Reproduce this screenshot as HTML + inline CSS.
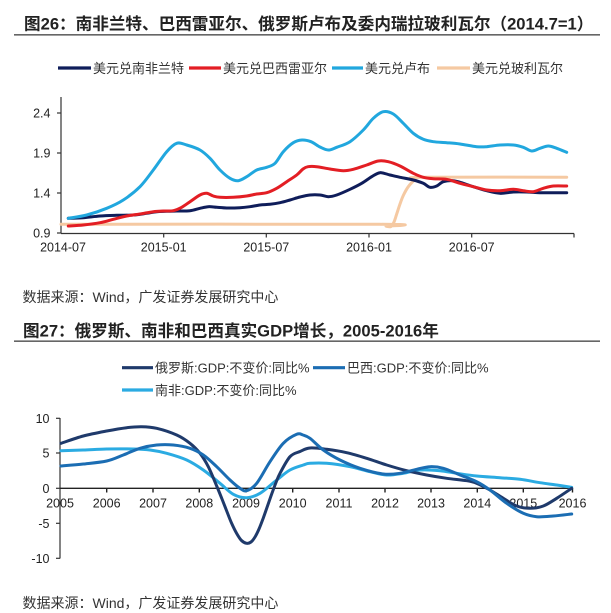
<!DOCTYPE html>
<html><head><meta charset="utf-8"><style>
html,body{margin:0;padding:0;background:#fff;}
svg{display:block;}
text{font-family:"Liberation Sans","Noto Sans CJK SC",sans-serif;fill:#222;}
.t{font-size:16.6px;font-weight:bold;fill:#222;}
.lg{font-size:13px;fill:#333;}
.ax{font-size:12.5px;fill:#222;}
.src{font-size:14px;fill:#333;}
</style></head><body>
<svg id="s" width="611" height="613" viewBox="0 0 611 613" xmlns="http://www.w3.org/2000/svg">
<defs>
<linearGradient id="fade" x1="0" x2="1" y1="0" y2="0">
<stop offset="0" stop-color="#666"/><stop offset="0.85" stop-color="#777"/><stop offset="1" stop-color="#fff"/>
</linearGradient>
</defs>
<!-- Title 1 -->
<text class="t" x="24" y="29.5">图26：南非兰特、巴西雷亚尔、俄罗斯卢布及委内瑞拉玻利瓦尔（2014.7=1）</text>
<line x1="14" y1="34.8" x2="600" y2="34.8" stroke="#666" stroke-width="1.6"/>
<!-- Legend 1 -->
<line x1="58" y1="68" x2="91" y2="68" stroke="#0f1d5a" stroke-width="3.2"/>
<text class="lg" x="93" y="72.8">美元兑南非兰特</text>
<line x1="189" y1="68" x2="221" y2="68" stroke="#e31e24" stroke-width="3.2"/>
<text class="lg" x="223" y="72.8">美元兑巴西雷亚尔</text>
<line x1="332" y1="68" x2="363" y2="68" stroke="#21a7de" stroke-width="3.2"/>
<text class="lg" x="365" y="72.8">美元兑卢布</text>
<line x1="437" y1="68" x2="470" y2="68" stroke="#f5c9a2" stroke-width="3.2"/>
<text class="lg" x="472" y="72.8">美元兑玻利瓦尔</text>
<!-- Axes chart 1 -->
<g stroke="#333" stroke-width="1.2" fill="none">
<line x1="61" y1="97" x2="61" y2="233.5"/>
<line x1="61" y1="233.5" x2="574" y2="233.5"/>
<line x1="57" y1="113" x2="61" y2="113"/>
<line x1="57" y1="153" x2="61" y2="153"/>
<line x1="57" y1="193" x2="61" y2="193"/>
<line x1="57" y1="233" x2="61" y2="233"/>
<line x1="163.7" y1="233.5" x2="163.7" y2="237.5"/>
<line x1="266.3" y1="233.5" x2="266.3" y2="237.5"/>
<line x1="369" y1="233.5" x2="369" y2="237.5"/>
<line x1="471.7" y1="233.5" x2="471.7" y2="237.5"/>
<line x1="574" y1="233.5" x2="574" y2="237.5"/>
</g>
<g text-anchor="end">
<text x="50.5" y="117.3" class="ax">2.4</text>
<text x="50.5" y="157.3" class="ax">1.9</text>
<text x="50.5" y="197.3" class="ax">1.4</text>
<text x="50.5" y="237.3" class="ax">0.9</text>
</g>
<g text-anchor="middle">
<text class="ax" x="63" y="251.3">2014-07</text>
<text class="ax" x="163.7" y="251.3">2015-01</text>
<text class="ax" x="266.3" y="251.3">2015-07</text>
<text class="ax" x="369" y="251.3">2016-01</text>
<text class="ax" x="471.7" y="251.3">2016-07</text>
</g>
<!-- Series chart 1 -->
<g fill="none" stroke-width="3" stroke-linejoin="round" stroke-linecap="round">
<polyline class="sm" stroke="#f5c9a2" points="61,224.3 380,224.3 386,226.2 391,226.5 394,222 396.7,214 400,204 403.3,195.5 408.3,186.7 415,179.8 423.3,177.3 566.7,177.3"/>
<polyline class="sm" stroke="#0f1d5a" points="68.3,218.3 83.3,217.7 100,216 116.7,215.3 133.3,215 146.7,213.3 156.7,211.7 166.7,211.3 176.7,211 190,210.7 200,208.3 208.3,206.7 216.7,207.3 226.7,208 240,207.7 250,206.7 260,205 270,204.3 280,202.7 290,200 300,197 310,195 320,195 328.3,196.7 336.7,195 350,189.3 361.7,183.3 371.7,176.7 380,172.7 390,175 400,177.3 413.3,180 423.3,183.3 430,187.3 436.7,186 443.3,181.7 453.3,180.7 463.3,183.3 473.3,186.7 486.7,190.7 500,193.3 513.3,192 526.7,192 540,192.7 553.3,192.7 566.7,192.7"/>
<polyline class="sm" stroke="#e31e24" points="68.3,226 83.3,225 100,222.7 113.3,219.3 126.7,216 140,214 153.3,211.7 163.3,211 173.3,210.7 181.7,207.3 190,201.7 200,195 206.7,193.3 213.3,196 220,197.3 233.3,197.3 246.7,196 256.7,194 266.7,192.7 276.7,188.3 286.7,181.7 296.7,175 303,169 308,166.7 316.7,166.7 330,169 343.3,170.7 353.3,169.3 366.7,165 378.3,161 388.3,161.7 400,166 413.3,173.3 423.3,177.3 433.3,178.7 446.7,179.3 460,183.3 473.3,186.7 486.7,190 500,190.7 513.3,189.3 523.3,190.7 533.3,191.7 543.3,188.3 553.3,186 566.7,186"/>
<polyline class="sm" stroke="#21a7de" points="68.3,218.3 86.7,215 106.7,208.3 123.3,200 140,186.7 153.3,170 166.7,151.7 176.7,143.3 186.7,145 200,150 210,158.3 220,170 230,178.3 238.3,180.7 246.7,176.7 256.7,170 266.7,167.3 275,163.3 283.3,151.7 293.3,142.7 302,140 311,141.7 320,147 328.3,150 336.7,147.3 350,141.7 363.3,130 373.3,118.3 383.3,111.7 393.3,114 403.3,123.3 413.3,133.3 423.3,139.3 433.3,141.7 446.7,142.7 460,144 476.7,146.7 486.7,146.7 500,145 513.3,145 523.3,147.3 531.7,151 540,148.3 548.3,146 556.7,148.3 566.7,152.3"/>
</g>
<!-- Source 1 -->
<line x1="14" y1="282.7" x2="485" y2="282.7" stroke="url(#fade)" stroke-width="2"/>
<text class="src" x="22.5" y="302">数据来源：Wind，广发证券发展研究中心</text>
<!-- Title 2 -->
<text class="t" x="23" y="336.3">图27：俄罗斯、南非和巴西真实GDP增长，2005-2016年</text>
<line x1="14" y1="341.2" x2="600" y2="341.2" stroke="#666" stroke-width="1.6"/>
<!-- Legend 2 -->
<line x1="122" y1="367.7" x2="153" y2="367.7" stroke="#1f3a6b" stroke-width="3.2"/>
<text class="lg" x="155" y="372.5">俄罗斯:GDP:不变价:同比%</text>
<line x1="313" y1="367.7" x2="345" y2="367.7" stroke="#1b6db3" stroke-width="3.2"/>
<text class="lg" x="347" y="372.5">巴西:GDP:不变价:同比%</text>
<line x1="122" y1="390" x2="153" y2="390" stroke="#2babe2" stroke-width="3.2"/>
<text class="lg" x="155" y="394.8">南非:GDP:不变价:同比%</text>
<!-- Axes chart 2 -->
<g stroke="#333" stroke-width="1.2" fill="none">
<line x1="60" y1="418" x2="60" y2="558.5"/>
<line x1="56" y1="418.3" x2="60" y2="418.3"/>
<line x1="56" y1="453" x2="60" y2="453"/>
<line x1="56" y1="488.3" x2="60" y2="488.3"/>
<line x1="56" y1="523.3" x2="60" y2="523.3"/>
<line x1="56" y1="558.3" x2="60" y2="558.3"/>
</g>
<g stroke="#222" stroke-width="1.4">
<line x1="60" y1="488.3" x2="573" y2="488.3"/>
<line x1="106.7" y1="488.3" x2="106.7" y2="492.5"/>
<line x1="153" y1="488.3" x2="153" y2="492.5"/>
<line x1="199.3" y1="488.3" x2="199.3" y2="492.5"/>
<line x1="246" y1="488.3" x2="246" y2="492.5"/>
<line x1="292.7" y1="488.3" x2="292.7" y2="492.5"/>
<line x1="339" y1="488.3" x2="339" y2="492.5"/>
<line x1="385" y1="488.3" x2="385" y2="492.5"/>
<line x1="431" y1="488.3" x2="431" y2="492.5"/>
<line x1="477.3" y1="488.3" x2="477.3" y2="492.5"/>
<line x1="523.3" y1="488.3" x2="523.3" y2="492.5"/>
<line x1="572.5" y1="488.3" x2="572.5" y2="492.5"/>
</g>
<g text-anchor="end">
<text class="ax" x="49.5" y="422.8">10</text>
<text class="ax" x="49.5" y="457.5">5</text>
<text class="ax" x="49.5" y="492.8">0</text>
<text class="ax" x="49.5" y="527.8">-5</text>
<text class="ax" x="49.5" y="562.8">-10</text>
</g>
<g text-anchor="middle">
<text class="ax" x="60" y="507.3">2005</text>
<text class="ax" x="106.7" y="507.3">2006</text>
<text class="ax" x="153" y="507.3">2007</text>
<text class="ax" x="199.3" y="507.3">2008</text>
<text class="ax" x="246" y="507.3">2009</text>
<text class="ax" x="292.7" y="507.3">2010</text>
<text class="ax" x="339" y="507.3">2011</text>
<text class="ax" x="385" y="507.3">2012</text>
<text class="ax" x="431" y="507.3">2013</text>
<text class="ax" x="477.3" y="507.3">2014</text>
<text class="ax" x="523.3" y="507.3">2015</text>
<text class="ax" x="572.5" y="507.3">2016</text>
</g>
<!-- Series chart 2 -->
<g fill="none" stroke-width="3" stroke-linejoin="round" stroke-linecap="round">
<polyline class="sm" stroke="#2babe2" points="61,450.7 83.3,450 106.7,449 133.3,449 150,450 166.7,453.3 186.7,460 203.3,470 220,483.3 233.3,494.3 246.7,497.7 260,493.3 276.7,480 290,470 303.3,465 310,463.3 326.7,463.3 350,466.7 370,471.7 386.7,475 403.3,473.3 420,470 440,470.7 456.7,473.3 476.7,476 500,477.7 520,479.3 540,482.7 556.7,485 571.7,487.3"/>
<polyline class="sm" stroke="#1f3a6b" points="61,443.3 83.3,436 106.7,431 126.7,427.7 141.7,426.7 156.7,428.3 176.7,435 190,443.3 200,453.3 208.3,466.7 216.7,486 222,499 226.7,511 231.5,523 236.7,533.5 241.5,540.5 246.7,543.3 251,542 255,537 259,529 263.3,518 267.5,506 271.7,494 276,482.5 280,473.3 290,456.7 300,451.5 310,448 326.7,449.3 346.7,452.7 366.7,458.3 386.7,465 406.7,470.7 426.7,475 446.7,478.3 466.7,480.7 476.7,483.3 490,490 503.3,498.3 516.7,506 530,508.3 543.3,506 556.7,498.3 571.7,488.3"/>
<polyline class="sm" stroke="#1b6db3" points="61,466 83.3,464 106.7,461 123.3,455 140,448.3 156.7,445 173.3,445 190,448.3 203.3,455 216.7,466.7 230,480 240,488.3 246.7,490.7 256.7,483.3 270,461.7 283.3,443.3 296.7,434.3 303,435 310,438.3 323.3,450 340,460 360,468.3 383.3,474 400,473.3 416.7,469.3 430,466.7 443.3,468.3 460,475 476.7,481.7 490,490 506.7,503.3 523.3,513.3 536.7,516.7 553.3,516 571.7,514"/>
</g>
<!-- Source 2 -->
<line x1="14" y1="588.7" x2="490" y2="588.7" stroke="url(#fade)" stroke-width="2"/>
<text class="src" x="22.5" y="608">数据来源：Wind，广发证券发展研究中心</text>
</svg>
<script>
(function(){
  try{
    var ns="http://www.w3.org/2000/svg";
    var pls=document.querySelectorAll("polyline.sm");
    for(var i=0;i<pls.length;i++){
      var pl=pls[i];
      var raw=pl.getAttribute("points").trim().split(/\s+/);
      var p=raw.map(function(s){var a=s.split(",");return [parseFloat(a[0]),parseFloat(a[1])];});
      if(p.length<3) continue;
      var d="M"+p[0][0]+","+p[0][1];
      var t=0.5;
      for(var j=0;j<p.length-1;j++){
        var p0=p[j>0?j-1:j],p1=p[j],p2=p[j+1],p3=p[j+2<p.length?j+2:j+1];
        var c1x=p1[0]+(p2[0]-p0[0])/6*t*2, c1y=p1[1]+(p2[1]-p0[1])/6*t*2;
        var c2x=p2[0]-(p3[0]-p1[0])/6*t*2, c2y=p2[1]-(p3[1]-p1[1])/6*t*2;
        d+=" C"+c1x.toFixed(2)+","+c1y.toFixed(2)+" "+c2x.toFixed(2)+","+c2y.toFixed(2)+" "+p2[0]+","+p2[1];
      }
      var path=document.createElementNS(ns,"path");
      path.setAttribute("d",d);
      path.setAttribute("stroke",pl.getAttribute("stroke"));
      path.setAttribute("fill","none");
      pl.parentNode.replaceChild(path,pl);
    }
  }catch(e){}
})();
</script>
</body></html>
